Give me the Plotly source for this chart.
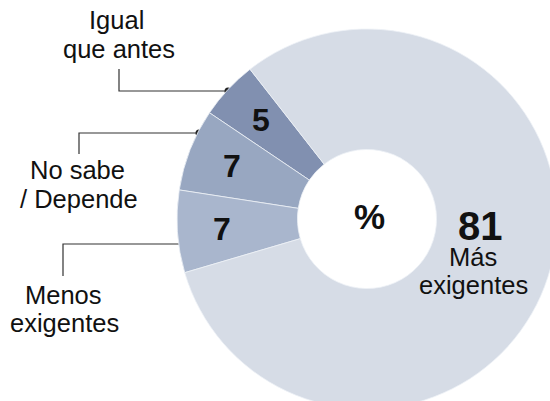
import math
import plotly.graph_objects as go

# ---------------- data ----------------
categories = ["Igual que antes", "No sabe / Depende", "Menos exigentes", "Más exigentes"]
values = [5, 7, 7, 81]
colors = ["#8190b0", "#98a7c1", "#a9b6cd", "#d6dce6"]
label_lines = [["Igual", "que antes"], ["No sabe", "/ Depende"], ["Menos", "exigentes"], ["Más", "exigentes"]]
center_label = "%"

# ---------------- layout constants (pixels) ----------------
W, H = 560, 412
CX, CY, R = 367, 219, 190
HOLE = 0.366
START = 38          # first slice starts 38° counter-clockwise from 12 o'clock
LAB_R = 145         # radius for the in-slice numbers
FONT = "Liberation Sans, Arial, Helvetica, sans-serif"
TXT = "#111111"
LINE = "#333333"
LBL = 25.5

total = sum(values)
# plotly (counter-clockwise) lays the first slice so that it ends at `rotation`
rotation = -(START + values[0] / total * 360)

fig = go.Figure()
fig.add_trace(go.Pie(
    values=values, labels=categories, sort=False,
    direction="counterclockwise", rotation=rotation, hole=HOLE,
    marker=dict(colors=colors, line=dict(color="#eef1f6", width=0.8)),
    textinfo="none", hoverinfo="label+value", showlegend=False,
    domain=dict(x=[(CX - R) / W, (CX + R) / W], y=[(H - CY - R) / H, (H - CY + R) / H]),
))

# leader lines with dots (pixel coords on an invisible overlay axis)
leaders = [
    [(119, 69), (119, 91), (228, 91)],
    [(79, 154), (79, 133), (199, 133)],
    [(63, 276), (63, 244), (183, 244)],
]
for pts in leaders:
    fig.add_trace(go.Scatter(x=[p[0] for p in pts], y=[p[1] for p in pts], mode="lines",
                             line=dict(color=LINE, width=1.2), hoverinfo="skip", showlegend=False))
    fig.add_trace(go.Scatter(x=[pts[-1][0]], y=[pts[-1][1]], mode="markers",
                             marker=dict(color="#222222", size=7), hoverinfo="skip", showlegend=False))

annotations = []
# in-slice numbers for the small slices, placed at each slice's mid angle
cum = START
for i, v in enumerate(values):
    span = v / total * 360
    mid = math.radians(cum + span / 2)
    cum += span
    if i < 3:
        annotations.append(dict(x=CX - LAB_R * math.sin(mid), y=CY - LAB_R * math.cos(mid),
                                text=f"<b>{v}</b>", font=dict(size=32, color=TXT, family=FONT)))

# big slice label
annotations.append(dict(x=480, y=226, text=f"<b>{values[3]}</b>", font=dict(size=40, color=TXT, family=FONT)))
annotations.append(dict(x=473, y=257, text=label_lines[3][0], font=dict(size=LBL, color=TXT, family=FONT)))
annotations.append(dict(x=473, y=285, text=label_lines[3][1], font=dict(size=LBL, color=TXT, family=FONT)))
# centre
annotations.append(dict(x=369, y=216, text=f"<b>{center_label}</b>", font=dict(size=35, color=TXT, family=FONT)))
# outside labels
outside = [
    (label_lines[0][0], 116, 20), (label_lines[0][1], 119, 49),
    (label_lines[1][0], 77, 170), (label_lines[1][1], 79, 199),
    (label_lines[2][0], 63, 295), (label_lines[2][1], 64, 323),
]
for t, x, y in outside:
    annotations.append(dict(x=x, y=y, text=t, font=dict(size=LBL, color=TXT, family=FONT)))

for a in annotations:
    a.update(xref="x", yref="y", showarrow=False, xanchor="center", yanchor="middle")

fig.update_layout(
    width=W, height=H, margin=dict(l=0, r=0, t=0, b=0, pad=0),
    paper_bgcolor="white", plot_bgcolor="white",
    xaxis=dict(range=[0, W], visible=False, fixedrange=True, domain=[0, 1]),
    yaxis=dict(range=[H, 0], visible=False, fixedrange=True, domain=[0, 1]),
    annotations=annotations, showlegend=False,
)

fig.write_html("out.html", config={"displayModeBar": False},
               post_script="document.body.style.margin='0';document.body.style.overflow='hidden';"
                           "document.documentElement.style.overflow='hidden';")
